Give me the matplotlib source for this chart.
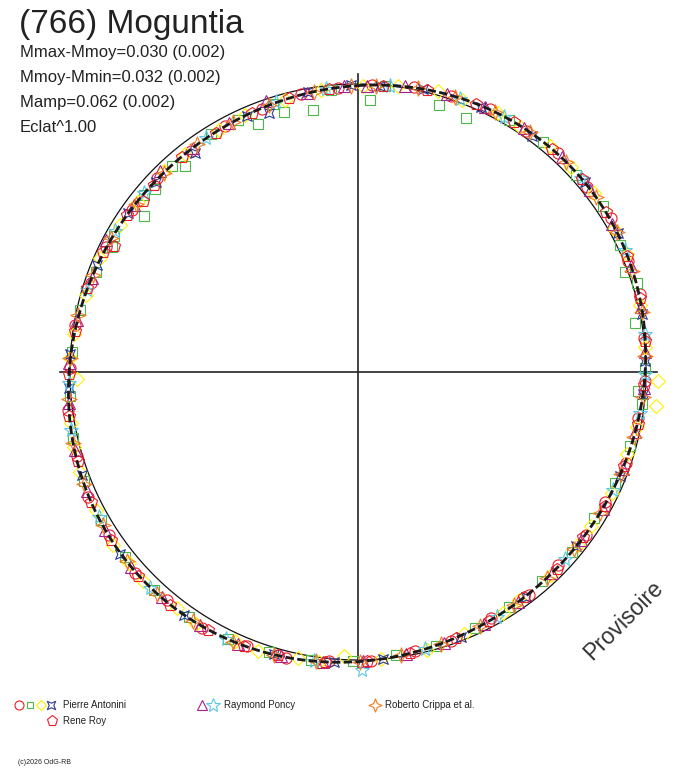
import numpy as np
import matplotlib
matplotlib.use("Agg")
import matplotlib.pyplot as plt
from matplotlib.path import Path

plt.rcParams['font.family'] = ['Liberation Sans', 'DejaVu Sans']

# phase (0-1) and magnitude offset from mean (mag) for each series
antonini_circ_ph = [0.008, 0.031, 0.052, 0.074, 0.097, 0.118, 0.142, 0.163, 0.188, 0.207, 0.231, 0.255, 0.276, 0.302, 0.327, 0.349, 0.372, 0.396, 0.421, 0.447, 0.468, 0.493, 0.516, 0.539, 0.561, 0.587, 0.611, 0.633, 0.658, 0.681, 0.704, 0.729, 0.752, 0.776, 0.801, 0.823, 0.849, 0.872, 0.897, 0.921, 0.944, 0.968, 0.989]
antonini_circ_dm = [0.003, -0.007, -0.009, -0.019, -0.018, -0.025, -0.019, -0.022, -0.012, -0.013, -0.001, 0.002, 0.013, 0.015, 0.025, 0.022, 0.029, 0.021, 0.023, 0.010, 0.009, -0.004, -0.008, -0.021, -0.022, -0.033, -0.028, -0.035, -0.027, -0.028, -0.016, -0.013, 0.001, 0.004, 0.018, 0.019, 0.029, 0.026, 0.031, 0.023, 0.024, 0.012, 0.010]

antonini_sq_ph = [0.007, 0.015, 0.047, 0.064, 0.086, 0.108, 0.133, 0.155, 0.178, 0.193, 0.201, 0.222, 0.248, 0.261, 0.268, 0.292, 0.315, 0.338, 0.361, 0.385, 0.409, 0.432, 0.456, 0.479, 0.503, 0.526, 0.549, 0.572, 0.596, 0.620, 0.643, 0.667, 0.690, 0.714, 0.737, 0.761, 0.785, 0.808, 0.825, 0.831, 0.850, 0.860, 0.867, 0.883, 0.889, 0.912, 0.929, 0.939, 0.951, 0.956, 0.973, 0.985]
antonini_sq_dm = [0.048, 0.002, 0.027, 0.034, -0.016, -0.020, -0.018, -0.022, -0.010, 0.008, -0.014, 0.018, 0.004, 0.020, 0.006, 0.018, 0.022, 0.030, 0.024, 0.027, 0.026, 0.020, 0.009, 0.008, -0.002, -0.010, -0.018, -0.024, -0.027, -0.030, -0.028, -0.025, -0.020, -0.012, -0.004, 0.003, 0.008, 0.021, 0.036, 0.025, 0.070, 0.029, 0.043, 0.032, 0.057, 0.026, 0.027, 0.060, 0.019, 0.052, 0.065, 0.014]

antonini_dia_ph = [0.003, 0.022, 0.044, 0.058, 0.079, 0.093, 0.112, 0.128, 0.147, 0.169, 0.184, 0.213, 0.236, 0.255, 0.268, 0.281, 0.297, 0.321, 0.343, 0.356, 0.379, 0.402, 0.414, 0.439, 0.461, 0.487, 0.508, 0.521, 0.533, 0.555, 0.568, 0.591, 0.604, 0.627, 0.639, 0.652, 0.673, 0.695, 0.709, 0.722, 0.746, 0.758, 0.771, 0.794, 0.816, 0.838, 0.855, 0.878, 0.893, 0.917, 0.934, 0.958, 0.979]
antonini_dia_dm = [0.006, -0.001, -0.012, -0.010, -0.020, -0.017, -0.023, -0.021, -0.024, -0.016, -0.017, -0.006, 0.001, -0.034, -0.033, 0.010, 0.019, 0.019, 0.026, 0.023, 0.024, 0.026, 0.019, 0.016, 0.005, 0.001, 0.010, -0.014, -0.012, -0.024, -0.023, -0.032, -0.028, -0.034, -0.029, -0.033, -0.024, -0.021, -0.016, -0.009, 0.019, 0.000, 0.004, 0.015, 0.018, 0.023, 0.030, 0.025, 0.029, 0.027, 0.022, 0.019, 0.011]

antonini_x_ph = [0.012, 0.036, 0.069, 0.101, 0.139, 0.172, 0.218, 0.244, 0.262, 0.310, 0.357, 0.398, 0.441, 0.486, 0.513, 0.546, 0.599, 0.646, 0.693, 0.741, 0.760, 0.812, 0.846, 0.870, 0.898, 0.935, 0.947, 0.972, 0.996]
antonini_x_dm = [0.004, -0.008, -0.013, -0.016, -0.024, -0.018, -0.006, 0.002, 0.006, 0.018, 0.027, 0.022, 0.012, -0.001, -0.008, -0.018, -0.030, -0.033, -0.019, -0.004, -0.001, 0.018, 0.024, 0.031, 0.044, 0.025, 0.042, 0.011, 0.003]

poncy_tri_ph = [0.005, 0.026, 0.049, 0.071, 0.095, 0.121, 0.144, 0.166, 0.191, 0.214, 0.239, 0.259, 0.284, 0.306, 0.331, 0.353, 0.378, 0.403, 0.426, 0.451, 0.473, 0.497, 0.519, 0.542, 0.566, 0.589, 0.614, 0.637, 0.661, 0.684, 0.707, 0.733, 0.755, 0.779, 0.804, 0.827, 0.852, 0.876, 0.899, 0.924, 0.948, 0.971, 0.992]
poncy_tri_dm = [0.004, -0.004, -0.012, -0.017, -0.019, -0.023, -0.020, -0.018, -0.013, -0.008, 0.000, 0.005, 0.012, 0.017, 0.023, 0.026, 0.025, 0.023, 0.018, 0.012, 0.005, -0.003, -0.012, -0.019, -0.025, -0.030, -0.031, -0.032, -0.029, -0.024, -0.017, -0.009, -0.002, 0.007, 0.016, 0.010, 0.026, 0.018, 0.028, 0.024, 0.004, 0.013, 0.006]

poncy_star_ph = [0.018, 0.057, 0.083, 0.136, 0.182, 0.229, 0.251, 0.273, 0.319, 0.367, 0.418, 0.462, 0.498, 0.524, 0.573, 0.622, 0.669, 0.718, 0.744, 0.797, 0.834, 0.861, 0.908, 0.953, 0.982]
poncy_star_dm = [0.001, -0.011, -0.016, -0.022, -0.016, -0.005, 0.003, 0.009, 0.020, 0.026, 0.020, 0.008, -0.030, -0.013, -0.027, -0.033, -0.026, -0.013, -0.004, 0.014, 0.021, 0.025, 0.027, 0.017, 0.008]

crippa_ph = [0.010, 0.033, 0.054, 0.077, 0.099, 0.124, 0.149, 0.171, 0.194, 0.217, 0.241, 0.264, 0.287, 0.309, 0.334, 0.359, 0.382, 0.406, 0.429, 0.453, 0.476, 0.499, 0.523, 0.546, 0.569, 0.593, 0.617, 0.641, 0.664, 0.688, 0.711, 0.735, 0.758, 0.782, 0.806, 0.829, 0.853, 0.877, 0.902, 0.926, 0.949, 0.975, 0.996]
crippa_dm = [0.003, -0.006, -0.010, -0.018, -0.021, -0.022, -0.020, -0.019, -0.012, -0.006, 0.001, 0.006, 0.013, 0.018, 0.024, 0.025, 0.026, 0.022, 0.018, 0.011, 0.004, -0.005, -0.012, -0.020, -0.026, -0.031, -0.032, -0.030, -0.027, -0.022, -0.016, -0.007, 0.000, 0.008, 0.016, 0.021, 0.027, 0.028, 0.027, 0.025, 0.019, 0.012, 0.005]

roy_ph = [0.014, 0.038, 0.066, 0.089, 0.114, 0.137, 0.159, 0.185, 0.209, 0.233, 0.257, 0.279, 0.304, 0.329, 0.351, 0.374, 0.399, 0.423, 0.444, 0.471, 0.495, 0.518, 0.544, 0.563, 0.584, 0.608, 0.631, 0.655, 0.678, 0.701, 0.726, 0.749, 0.773, 0.798, 0.820, 0.826, 0.845, 0.857, 0.868, 0.891, 0.915, 0.938, 0.961, 0.984]
roy_dm = [0.002, -0.006, -0.014, -0.019, -0.021, -0.023, -0.020, -0.014, -0.009, -0.003, 0.004, 0.011, 0.016, 0.022, 0.026, 0.024, 0.024, 0.019, 0.014, 0.006, -0.004, -0.010, -0.019, -0.025, -0.029, -0.031, -0.033, -0.029, -0.026, -0.018, -0.011, -0.003, 0.006, 0.013, 0.019, 0.040, 0.025, 0.038, 0.032, 0.030, 0.029, 0.024, 0.016, 0.010]

# Fourier fit of the lightcurve: a0, a1, b1, a2, b2 (mag)
fit_coef = [0.0, 0.0046, 0.0025, 0.0, -0.027]

title = "(766) Moguntia"
info_lines = ["Mmax-Mmoy=0.030 (0.002)", "Mmoy-Mmin=0.032 (0.002)",
              "Mamp=0.062 (0.002)", "Eclat^1.00"]

RED = '#ee1c25'
GREEN = '#4cb848'
YELLOW = '#fff200'
BLUE = '#2e3d98'
PURPLE = '#a3228d'
CYAN = '#5bc8e6'
ORANGE = '#f47b20'

star4 = Path([(0, 1), (0.28, 0.28), (1, 0), (0.28, -0.28), (0, -1), (-0.28, -0.28),
              (-1, 0), (-0.28, 0.28), (0, 1)], closed=True)
star4x = Path([(-1, 1), (0, 0.55), (1, 1), (0.55, 0), (1, -1), (0, -0.55),
               (-1, -1), (-0.55, 0), (-1, 1)], closed=True)

# marker, colour, size in plot, size in legend
styles = {
    'circ': ('o', RED, 8.0, 6.5),
    'sq': ('s', GREEN, 6.5, 5.0),
    'dia': ('D', YELLOW, 7.0, 5.5),
    'x': (star4x, BLUE, 7.0, 6.0),
    'tri': ('^', PURPLE, 8.0, 7.0),
    'star': ('*', CYAN, 11.0, 10.0),
    'cr': (star4, ORANGE, 11.0, 9.5),
    'pent': ('p', RED, 9.0, 8.0),
}

series = [
    (antonini_circ_ph, antonini_circ_dm, 'circ'),
    (antonini_sq_ph, antonini_sq_dm, 'sq'),
    (antonini_dia_ph, antonini_dia_dm, 'dia'),
    (antonini_x_ph, antonini_x_dm, 'x'),
    (poncy_tri_ph, poncy_tri_dm, 'tri'),
    (poncy_star_ph, poncy_star_dm, 'star'),
    (crippa_ph, crippa_dm, 'cr'),
    (roy_ph, roy_dm, 'pent'),
]

GAIN = 1.3  # radial exaggeration of the brightness variation


def to_xy(ph, dm):
    ph = np.asarray(ph)
    r = 1 + GAIN * (10 ** (-0.4 * np.asarray(dm)) - 1)  # Eclat^1.00
    th = np.pi / 2 - 2 * np.pi * ph
    return r * np.cos(th), r * np.sin(th)


fig = plt.figure(figsize=(6.88, 7.68), dpi=100)
R = 288.0
cx, cy = 358.0, 372.0
ax = fig.add_axes([0, 0, 1, 1])
ax.set_xlim(-cx / R, (688 - cx) / R)
ax.set_ylim(-(768 - cy) / R, cy / R)
ax.axis('off')

# axes cross and reference circle
ax.plot([-1.035, 1.038], [0, 0], color='#222222', lw=1.2, zorder=1)
ax.plot([0, 0], [-1.018, 1.035], color='#222222', lw=1.2, zorder=1)
t = np.linspace(0, 2 * np.pi, 400)
ax.plot(np.cos(t), np.sin(t), color='#111111', lw=0.9, zorder=1)

for ph, dm, key in series:
    mk, col, ms, _ = styles[key]
    x, y = to_xy(ph, dm)
    ax.plot(x, y, ls='none', marker=mk, ms=ms, mfc='none', mec=col, mew=0.8, zorder=2)

phg = np.linspace(0, 1, 500)
a0, a1, b1, a2, b2 = fit_coef
fit = (a0 + a1 * np.cos(2 * np.pi * phg) + b1 * np.sin(2 * np.pi * phg)
       + a2 * np.cos(4 * np.pi * phg) + b2 * np.sin(4 * np.pi * phg))
fx, fy = to_xy(phg, fit)
ax.plot(fx, fy, color='#1a1a1a', lw=2.0, ls=(0, (3, 1.2)), zorder=3)

# overlay in pixel units for texts and legend
ov = fig.add_axes([0, 0, 1, 1])
ov.set_xlim(0, 688)
ov.set_ylim(768, 0)
ov.axis('off')
ov.patch.set_alpha(0)

ov.text(19, 33, title, fontsize=24, color='#222222', va='baseline')
for i, s in enumerate(info_lines):
    ov.text(20, 57 + 25 * i, s, fontsize=12, color='#222222', va='baseline')

ov.text(624, 620, "Provisoire", fontsize=16.5, color='#333333', rotation=45,
        ha='center', va='center')

leg = [
    (19, 705, 'circ'), (30, 705, 'sq'), (41, 705, 'dia'), (51, 705, 'x'),
    (52, 721, 'pent'), (202, 705, 'tri'), (213, 705, 'star'), (375, 705, 'cr'),
]
for x, y, key in leg:
    mk, col, _, ms = styles[key]
    ov.plot(x, y, marker=mk, ms=ms, mfc='none', mec=col, mew=0.8, ls='none')
ov.text(63, 705, "Pierre Antonini", fontsize=7, va='center', color='#222222')
ov.text(63, 721, "Rene Roy", fontsize=7, va='center', color='#222222')
ov.text(224, 705, "Raymond Poncy", fontsize=7, va='center', color='#222222')
ov.text(385, 705, "Roberto Crippa et al.", fontsize=7, va='center', color='#222222')
ov.text(18, 763, "(c)2026 OdG-RB", fontsize=5, va='center', color='#222222')

fig.savefig('out.png', dpi=100)
